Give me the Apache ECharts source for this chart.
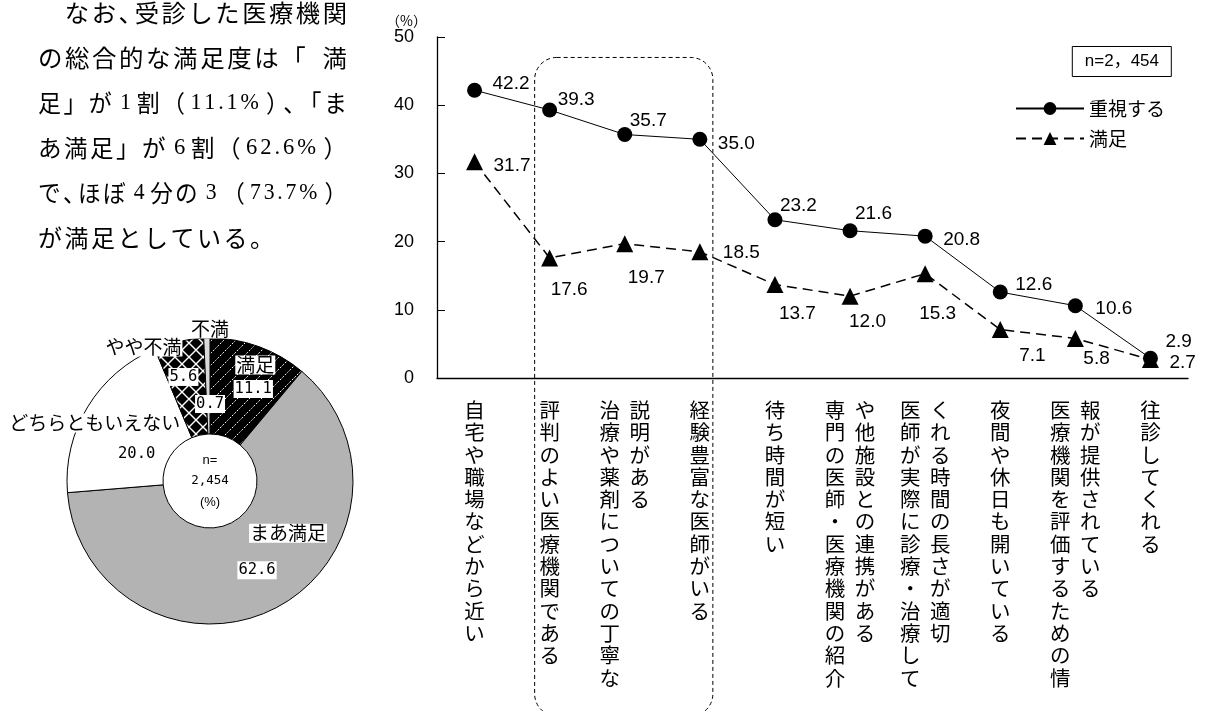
<!DOCTYPE html>
<html>
<head>
<meta charset="utf-8">
<script src="https://cdn.jsdelivr.net/npm/echarts@6/dist/echarts.min.js"></script>
<style>
  html, body { margin: 0; padding: 0; background: #fff; }
  #main { width: 1206px; height: 711px; }
</style>
</head>
<body>
<div id="main"></div>
<script>
// ---- data ----------------------------------------------------------------
// Category names, split into the vertical columns they wrap into (left to right).
const categoryColumns = [
  ['自宅や職場などから近い'],
  ['評判のよい医療機関である'],
  ['治療や薬剤についての丁寧な', '説明がある'],
  ['経験豊富な医師がいる'],
  ['待ち時間が短い'],
  ['専門の医師・医療機関の紹介', 'や他施設との連携がある'],
  ['医師が実際に診療・治療して', 'くれる時間の長さが適切'],
  ['夜間や休日も開いている'],
  ['医療機関を評価するための情', '報が提供されている'],
  ['往診してくれる']
];
const categories = categoryColumns.map(c => c.join(''));

const importanceValues = [42.2, 39.3, 35.7, 35.0, 23.2, 21.6, 20.8, 12.6, 10.6, 2.9];
const satisfiedValues  = [31.7, 17.6, 19.7, 18.5, 13.7, 12.0, 15.3, 7.1, 5.8, 2.7];
const seriesNames = ['重視する', '満足'];

const yMin = 0, yMax = 50, yStep = 10;

const pieNames  = ['満足', 'まあ満足', 'どちらともいえない', 'やや不満', '不満'];
const pieValues = [11.1, 62.6, 20.0, 5.6, 0.7];

const sampleSize = '2,454';

const paragraphLines = [
  '\u3000なお、受診した医療機関',
  'の総合的な満足度は「 満',
  '足」が1割（11.1%）、「ま',
  'あ満足」が6割（62.6%）',
  'で、ほぼ4分の3（73.7%）',
  'が満足としている。'
];

// ---- layout ----------------------------------------------------------------
const cjk = "'Noto Sans CJK JP', sans-serif";
const latin = "'Liberation Sans', 'Noto Sans CJK JP', sans-serif";
const serif = "'Liberation Serif', 'Noto Sans CJK JP', serif";
const mono = "'DejaVu Sans Mono', monospace";

// per-point nudges of value labels (px)
const importanceLabelShift = [[5.5,-6],[-4.5,-10],[-7.5,-14],[5.5,4],[-7.5,-14.5],[-7.5,-17],[5.5,4],[2.5,-7],[7.5,3],[2.5,-16]];
const satisfiedLabelShift  = [[5.5,3.5],[-12.5,32],[-10.5,34],[9.5,0.5],[-9.5,29],[-14.5,26],[-19.5,40],[5.5,26],[-5.5,20],[5.5,3]];

const pieCenter = [210, 481];
const pieRadius = [47, 143];
// nudges for the slice labels (the pie applies them twice, hence the halved sizes)
const pieNameShift  = [[5.9,-12],[16.5,-17.4],[-15.8,-3.5],[-22.6,-19.2],[1.1,-27]];
const pieValueShift = [[4.9,0],[1,1.1],[5.2,12],[-2.6,-4.2],[1.1,10.5]];

// fill patterns for the dark slices
function makePattern(size, draw) {
  const c = document.createElement('canvas');
  c.width = c.height = size;
  const g = c.getContext('2d');
  g.fillStyle = '#000';
  g.fillRect(0, 0, size, size);
  g.strokeStyle = '#fff';
  g.lineWidth = 1;
  draw(g, size);
  return c;
}
const stripePattern = makePattern(12, (g, s) => {
  g.setLineDash([2, 1.5]);
  g.beginPath(); g.moveTo(-1, s + 1); g.lineTo(s + 1, -1); g.stroke();
});
const latticePattern = makePattern(14, (g, s) => {
  g.lineWidth = 1.4;
  g.beginPath();
  g.moveTo(0, 0); g.lineTo(s, s);
  g.moveTo(0, s); g.lineTo(s, 0);
  g.stroke();
});
const sliceFills = [
  { image: stripePattern, repeat: 'repeat' },
  '#b3b3b3',
  '#ffffff',
  { image: latticePattern, repeat: 'repeat' },
  '#d9d9d9'
];

// paragraph text: full-width cells, serif figures
function paragraphRich(line) {
  const chars = Array.from(line);
  let out = '';
  for (let i = 0; i < chars.length; i++) {
    const ch = chars[i];
    if (ch === ' ') { out += '{s| }'; continue; }
    if (/[0-9.%]/.test(ch)) {
      let j = i;
      while (j < chars.length && /[0-9.%]/.test(chars[j])) j++;
      const run = chars.slice(i, j);
      out += run.length === 1 ? `{d|${run[0]}}` : run.map(c => `{n|${c}}`).join('');
      i = j - 1;
      continue;
    }
    if ('、。'.includes(ch)) out += `{p|${ch}}`;
    else if (ch === '（') out += `{bo|${ch}}`;
    else if (ch === '）') out += `{bc|${ch}}`;
    else out += `{j|${ch}}`;
  }
  return out;
}
const paraRichStyles = {
  j:  { fontSize: 24, width: 26.5, align: 'left', fontFamily: cjk, color: '#000' },
  p:  { fontSize: 24, width: 16, align: 'left', fontFamily: cjk, color: '#000' },
  bo: { fontSize: 24, width: 28, align: 'left', fontFamily: cjk, color: '#000' },
  bc: { fontSize: 24, width: 18, padding: [0, 0, 0, 6], align: 'left', fontFamily: cjk, color: '#000' },
  d:  { fontSize: 23, padding: [0, 6], align: 'left', fontFamily: serif, color: '#000' },
  n:  { fontSize: 23, padding: [0, 1.5], align: 'left', fontFamily: serif, color: '#000' },
  s:  { fontSize: 22, width: 14, align: 'left', fontFamily: cjk }
};
const paraLeft = 38, paraRight = 347;
const paragraphGraphics = paragraphLines.map((line, i) => {
  const style = {
    text: paragraphRich(line),
    rich: paraRichStyles,
    align: 'left',
    verticalAlign: 'middle'
  };
  // every line but the last is justified to the column width
  let scaleX = 1;
  if (i < paragraphLines.length - 1) {
    const probe = new echarts.graphic.Text({ style: Object.assign({}, style) });
    const w = probe.getBoundingRect().width;
    if (w > 0) scaleX = (paraRight - paraLeft) / w;
  }
  return {
    type: 'text',
    id: 'para' + i,
    x: paraLeft,
    y: 13 + i * 45,
    scaleX: scaleX,
    style: style
  };
});

function categoryLabel(value, index) {
  const cols = categoryColumns[index];
  const rows = Math.max(...cols.map(c => c.length));
  const lines = [];
  for (let r = 0; r < rows; r++) {
    lines.push(cols.map(c => `{c|${Array.from(c)[r] || '\u3000'}}`).join(''));
  }
  return lines.join('\n');
}

const chart = echarts.init(document.getElementById('main'), null, { renderer: 'canvas' });

const option = {
  animation: false,
  backgroundColor: '#fff',
  title: {
    text: 'n=' + sampleSize.replace(',', '，'),
    right: 34,
    top: 46,
    padding: [7, 13],
    borderColor: '#000',
    borderWidth: 1,
    textStyle: { fontSize: 17, fontWeight: 'normal', color: '#000', fontFamily: latin }
  },
  legend: {
    data: seriesNames,
    orient: 'vertical',
    left: 1010,
    top: 94,
    itemWidth: 68,
    itemHeight: 16,
    itemGap: 11,
    selectedMode: false,
    textStyle: { fontSize: 19, color: '#000', fontFamily: cjk }
  },
  grid: {
    left: 437,
    right: 18,
    top: 37,
    bottom: 333,
    containLabel: false,
    outerBoundsMode: 'none'
  },
  xAxis: {
    type: 'category',
    data: categories,
    boundaryGap: true,
    axisLine: { lineStyle: { color: '#000', width: 1.3 } },
    axisTick: { show: false },
    axisLabel: {
      interval: 0,
      margin: 21,
      color: '#000',
      verticalAlign: 'top',
      formatter: categoryLabel,
      rich: {
        c: { width: 30, align: 'center', fontSize: 20.5, lineHeight: 22.3, fontFamily: cjk, color: '#000' }
      }
    },
    splitLine: { show: false }
  },
  yAxis: {
    type: 'value',
    min: yMin,
    max: yMax,
    interval: yStep,
    name: '（%）',
    nameLocation: 'end',
    nameGap: 15,
    nameTextStyle: { fontSize: 14, color: '#000', fontFamily: cjk, align: 'right', verticalAlign: 'middle', padding: [0, 10, 0, 0] },
    axisLine: { show: true, lineStyle: { color: '#000', width: 1.3 } },
    axisTick: { show: true, inside: true, length: 8, lineStyle: { color: '#000' } },
    axisLabel: { margin: 23, fontSize: 18, color: '#000', fontFamily: latin },
    splitLine: { show: false }
  },
  series: [
    {
      name: seriesNames[0],
      type: 'line',
      data: importanceValues,
      symbol: 'circle',
      symbolSize: 15,
      itemStyle: { color: '#000' },
      lineStyle: { color: '#000', width: 1 },
      label: {
        show: true, position: 'right', distance: 5,
        formatter: p => p.value.toFixed(1),
        fontSize: 19, color: '#000', fontFamily: latin
      },
      labelLayout: p => ({ dx: importanceLabelShift[p.dataIndex][0], dy: importanceLabelShift[p.dataIndex][1] }),
      z: 3
    },
    {
      name: seriesNames[1],
      type: 'line',
      data: satisfiedValues,
      symbol: 'triangle',
      symbolSize: 17,
      itemStyle: { color: '#000' },
      lineStyle: { color: '#000', width: 1.5, type: [10, 6] },
      label: {
        show: true, position: 'right', distance: 5,
        formatter: p => p.value.toFixed(1),
        fontSize: 19, color: '#000', fontFamily: latin
      },
      labelLayout: p => ({ dx: satisfiedLabelShift[p.dataIndex][0], dy: satisfiedLabelShift[p.dataIndex][1] }),
      z: 3
    },
    {
      name: '総合的な満足度',
      type: 'pie',
      center: pieCenter,
      radius: pieRadius,
      startAngle: 90,
      clockwise: true,
      avoidLabelOverlap: false,
      silent: true,
      data: pieNames.map((n, i) => ({
        name: n,
        value: pieValues[i],
        itemStyle: { color: sliceFills[i] }
      })),
      itemStyle: { borderColor: '#000', borderWidth: 1 },
      label: {
        show: true, position: 'inside', formatter: '{b}',
        fontSize: 19, color: '#000', fontFamily: cjk,
        backgroundColor: '#fff', padding: [0, 1]
      },
      labelLine: { show: false },
      labelLayout: p => ({ dx: pieNameShift[p.dataIndex][0], dy: pieNameShift[p.dataIndex][1] }),
      emphasis: { disabled: true }
    },
    {
      name: '総合的な満足度（値）',
      type: 'pie',
      center: pieCenter,
      radius: pieRadius,
      startAngle: 90,
      clockwise: true,
      avoidLabelOverlap: false,
      silent: true,
      data: pieNames.map((n, i) => ({ name: n, value: pieValues[i] })),
      itemStyle: { color: 'rgba(0,0,0,0)', borderWidth: 0 },
      label: {
        show: true, position: 'inside',
        formatter: p => p.value.toFixed(1),
        fontSize: 15.5, color: '#000', fontFamily: mono,
        backgroundColor: '#fff', padding: [1, 1]
      },
      labelLine: { show: false },
      labelLayout: p => ({ dx: pieValueShift[p.dataIndex][0], dy: pieValueShift[p.dataIndex][1] }),
      emphasis: { disabled: true },
      z: 5
    }
  ],
  graphic: paragraphGraphics.concat([
    {
      type: 'text',
      id: 'pieCenterText',
      x: pieCenter[0],
      y: pieCenter[1],
      z: 10,
      style: {
        text: `{a|n=}\n{m|${sampleSize}}\n{a|(%)}`,
        align: 'center',
        verticalAlign: 'middle',
        rich: {
          a: { fontSize: 13, lineHeight: 21, fontFamily: latin, color: '#000' },
          m: { fontSize: 12.5, lineHeight: 21, fontFamily: mono, color: '#000' }
        }
      }
    }
  ])
};

// first pass gives the axis scales; the frame is then placed from them
chart.setOption(option);
const frameLeft = chart.convertToPixel({ xAxisIndex: 0 }, categories[1]) - 15;
const frameRight = chart.convertToPixel({ xAxisIndex: 0 }, categories[3]) + 13;
const frameTop = chart.convertToPixel({ yAxisIndex: 0 }, 47);

// dashed rounded frame around the three explanation-related items
option.graphic.push({
  type: 'rect',
  id: 'groupFrame',
  z: 1,
  silent: true,
  shape: { x: frameLeft, y: frameTop, width: frameRight - frameLeft, height: 716 - frameTop, r: 22 },
  style: { fill: 'none', stroke: '#000', lineWidth: 1, lineDash: [4, 3] }
});
chart.setOption(option, true);
</script>
</body>
</html>
